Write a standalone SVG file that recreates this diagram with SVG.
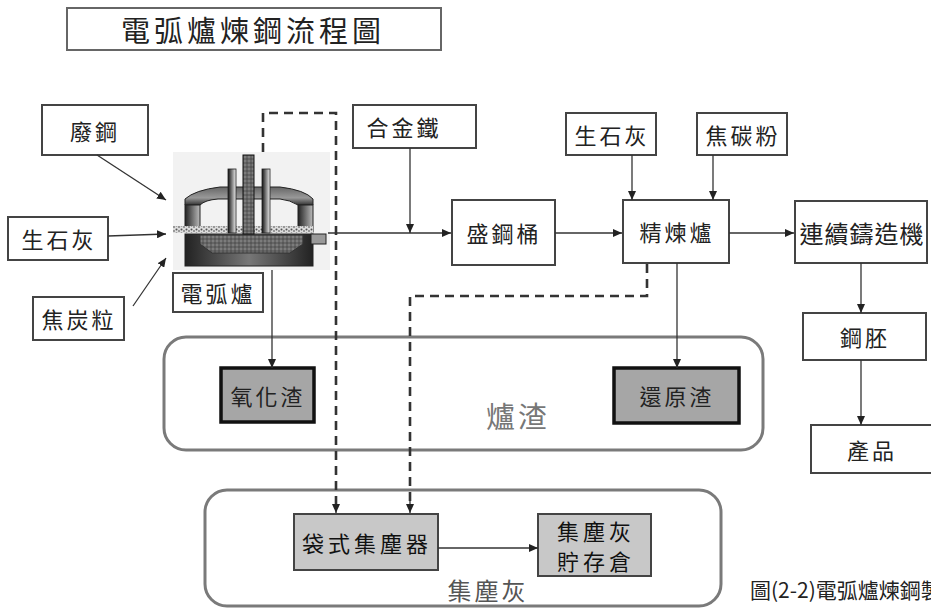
<svg xmlns="http://www.w3.org/2000/svg" width="931" height="610" viewBox="0 0 931 610">
<defs>
<style>
.box{fill:#fff;stroke:#444;stroke-width:2}
.slag{fill:#a6a6a6;stroke:#111;stroke-width:3.5}
.dust{fill:#c8c8c8;stroke:#444;stroke-width:2}
.group{fill:none;stroke:#7a7a7a;stroke-width:3}
.t{font-family:"Noto Sans CJK TC","Noto Sans CJK SC",sans-serif;font-size:22px;fill:#222;text-anchor:middle;dominant-baseline:central;letter-spacing:3px}
.gl{font-family:"Noto Sans CJK TC",sans-serif;font-size:29px;fill:#777;text-anchor:middle;dominant-baseline:central;letter-spacing:3px}
.ln{fill:none;stroke:#333;stroke-width:1.3}
.dash{fill:none;stroke:#333;stroke-width:2.6;stroke-dasharray:9 6}
</style>
<marker id="ah" markerUnits="userSpaceOnUse" markerWidth="9" markerHeight="8" refX="9" refY="4" orient="auto">
<path d="M0,0 L9,4 L0,8 z" fill="#222"/>
</marker>
<linearGradient id="shell" x1="0" y1="0" x2="1" y2="0">
<stop offset="0" stop-color="#222"/><stop offset="0.5" stop-color="#777"/><stop offset="1" stop-color="#222"/>
</linearGradient>
<linearGradient id="shellv" x1="0" y1="0" x2="0" y2="1">
<stop offset="0" stop-color="#666"/><stop offset="0.6" stop-color="#999"/><stop offset="1" stop-color="#333"/>
</linearGradient>
<linearGradient id="elec" x1="0" y1="0" x2="1" y2="0">
<stop offset="0" stop-color="#111"/><stop offset="1" stop-color="#eee"/>
</linearGradient>
<linearGradient id="wall" x1="0" y1="0" x2="1" y2="0">
<stop offset="0" stop-color="#222"/><stop offset="1" stop-color="#bbb"/>
</linearGradient>
<pattern id="dots" width="4" height="4" patternUnits="userSpaceOnUse">
<rect width="4" height="4" fill="#666"/><circle cx="1" cy="1" r="0.8" fill="#999"/><circle cx="3" cy="3" r="0.8" fill="#444"/>
</pattern>
<pattern id="slagdots" width="5" height="4" patternUnits="userSpaceOnUse">
<rect width="5" height="4" fill="#ddd"/><circle cx="1.5" cy="1.5" r="1" fill="#555"/><circle cx="4" cy="3" r="0.9" fill="#777"/>
</pattern>
</defs>

<g id="title">
<rect x="67" y="8" width="374" height="42" fill="#fff" stroke="#666" stroke-width="2"/>
<text x="253" y="29" class="t" style="font-size:29px;letter-spacing:4px">電弧爐煉鋼流程圖</text>
</g>

<g id="group-slag">
<rect x="164" y="337" width="599" height="113" rx="22" class="group"/>
<text x="518" y="415" class="gl">爐渣</text>
</g>
<g id="group-dust">
<rect x="205" y="490" width="516" height="116" rx="22" class="group"/>
<text x="488" y="589" class="gl" style="font-size:24px;fill:#555">集塵灰</text>
</g>

<g id="furnace">
<rect x="173" y="152" width="157" height="118" fill="#f2f2f2"/>
<rect x="185" y="234" width="128" height="32" fill="url(#shell)" stroke="#222" stroke-width="1"/>
<rect x="311" y="234" width="15" height="10" fill="#999" stroke="#222" stroke-width="1"/>
<path d="M200,235 L303,235 L303,244 L290,253 L212,253 L200,244 Z" fill="url(#dots)" stroke="#333" stroke-width="1"/>
<path d="M185,205 L185,199 Q195,190 220,187 L280,187 Q305,190 313,199 L313,205 L298,205 Q290,200 280,199 L218,199 Q205,200 200,205 Z" fill="url(#shellv)" stroke="#222" stroke-width="1"/>
<rect x="185" y="205" width="15" height="27" fill="url(#wall)" stroke="#222" stroke-width="1"/>
<rect x="298" y="205" width="15" height="27" fill="url(#wall)" stroke="#222" stroke-width="1"/>
<rect x="173" y="226" width="140" height="7" fill="url(#slagdots)"/>
<rect x="228" y="169" width="8" height="64" fill="url(#elec)" stroke="#222" stroke-width="0.8"/>
<rect x="262" y="169" width="8" height="64" fill="url(#elec)" stroke="#222" stroke-width="0.8"/>
<rect x="243" y="155" width="11" height="79" fill="url(#dots)" stroke="#111" stroke-width="1"/>
</g>

<g id="n-furnace-label"><rect x="173" y="273" width="90" height="39" class="box"/><text x="218" y="292" class="t">電弧爐</text></g>
<g id="n-scrap"><rect x="42" y="105" width="106" height="50" class="box"/><text x="95" y="130" class="t">廢鋼</text></g>
<g id="n-lime1"><rect x="8" y="217" width="100" height="43" class="box"/><text x="59" y="238" class="t">生石灰</text></g>
<g id="n-coke"><rect x="33" y="297" width="91" height="43" class="box"/><text x="79" y="318" class="t">焦炭粒</text></g>
<g id="n-alloy"><rect x="353" y="105" width="123" height="43" class="box"/><text x="404" y="126" class="t">合金鐵</text></g>
<g id="n-ladle"><rect x="452" y="200" width="103" height="65" class="box"/><text x="504" y="232" class="t">盛鋼桶</text></g>
<g id="n-refine"><rect x="623" y="200" width="106" height="63" class="box"/><text x="677" y="231" class="t">精煉爐</text></g>
<g id="n-lime2"><rect x="566" y="113" width="90" height="42" class="box"/><text x="612" y="134" class="t">生石灰</text></g>
<g id="n-carbon"><rect x="697" y="113" width="90" height="42" class="box"/><text x="743" y="134" class="t">焦碳粉</text></g>
<g id="n-caster"><rect x="795" y="201" width="132" height="62" class="box"/><text x="862" y="232" class="t" style="font-size:24px;letter-spacing:1px">連續鑄造機</text></g>
<g id="n-billet"><rect x="803" y="313" width="123" height="47" class="box"/><text x="865" y="336" class="t">鋼胚</text></g>
<g id="n-product"><rect x="811" y="425" width="122" height="48" class="box"/><text x="872" y="449" class="t">產品</text></g>
<g id="n-oxslag"><rect x="221" y="368" width="93" height="54" class="slag"/><text x="268" y="395" class="t">氧化渣</text></g>
<g id="n-redslag"><rect x="614" y="368" width="125" height="55" class="slag"/><text x="677" y="395" class="t">還原渣</text></g>
<g id="n-baghouse"><rect x="294" y="514" width="144" height="56" class="dust"/><text x="367" y="542" class="t" style="fill:#111;letter-spacing:4px">袋式集塵器</text></g>
<g id="n-storage"><rect x="538" y="514" width="113" height="62" class="dust"/><text x="596" y="530" class="t" style="fill:#111;letter-spacing:4px">集塵灰</text><text x="596" y="560" class="t" style="fill:#111;letter-spacing:4px">貯存倉</text></g>

<g id="connectors">
<path d="M97,155 L166,200" class="ln" marker-end="url(#ah)"/>
<path d="M108,236 L166,234" class="ln" marker-end="url(#ah)"/>
<path d="M133,306 L166,258" class="ln" marker-end="url(#ah)"/>
<path d="M328,233 L451,233" class="ln" marker-end="url(#ah)"/>
<path d="M410,148 L410,233" class="ln" marker-end="url(#ah)"/>
<path d="M555,233 L622,233" class="ln" marker-end="url(#ah)"/>
<path d="M632,155 L632,200" class="ln" marker-end="url(#ah)"/>
<path d="M713,155 L713,200" class="ln" marker-end="url(#ah)"/>
<path d="M729,233 L794,233" class="ln" marker-end="url(#ah)"/>
<path d="M861,263 L861,313" class="ln" marker-end="url(#ah)"/>
<path d="M861,360 L861,425" class="ln" marker-end="url(#ah)"/>
<path d="M272,270 L272,368" class="ln" marker-end="url(#ah)"/>
<path d="M677,263 L677,368" class="ln" marker-end="url(#ah)"/>
<path d="M438,548 L538,548" class="ln" marker-end="url(#ah)"/>
<path d="M263,152 L263,113 L336,113 L336,506" class="dash"/>
<path d="M336,500 L336,513" class="ln" marker-end="url(#ah)"/>
<path d="M647,264 L647,296 L410,296 L410,506" class="dash"/>
<path d="M410,500 L410,513" class="ln" marker-end="url(#ah)"/>
</g>

<text x="750" y="589" style="font-family:'Noto Sans CJK TC',sans-serif;font-size:21px;fill:#222;dominant-baseline:central">圖(2-2)電弧爐煉鋼製</text>
</svg>
